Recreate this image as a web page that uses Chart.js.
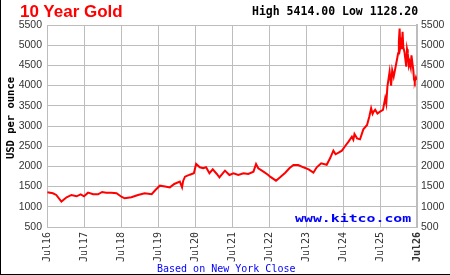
<!DOCTYPE html>
<html><head><meta charset="utf-8">
<script src="https://cdn.jsdelivr.net/npm/chart.js@4/dist/chart.umd.min.js"></script>
<style>
html,body{margin:0;padding:0;background:#fff;}
#wrap{position:relative;width:450px;height:275px;overflow:hidden;background:#fff;}
canvas{position:absolute;left:0;top:0;}
.t{position:absolute;white-space:nowrap;}
#title{left:20px;top:3px;font:bold 17px/17px "Liberation Sans",Arial,sans-serif;color:#ff0000;}
#hilo{left:252px;top:4.7px;font:bold 11.5px/12px "DejaVu Sans Mono",monospace;color:#000;}
#ytitle{left:-40px;top:111.5px;width:100px;height:12px;text-align:center;font:bold 10.5px/12px "DejaVu Sans Mono",monospace;color:#000;transform:rotate(-90deg);transform-origin:50% 50%;}
#based{left:157px;top:263.5px;font:10px/10px "DejaVu Sans Mono",monospace;color:#0000ff;}
#kitco{left:295px;top:213px;font:bold 11px/12px "DejaVu Sans Mono",monospace;color:#0000ff;transform:scaleX(1.35);transform-origin:0 50%;}
#frame{position:absolute;left:0;top:0;width:450px;height:275px;box-sizing:border-box;border-left:1px solid #000;border-bottom:1px solid #000;pointer-events:none;}
</style></head>
<body>
<div id="wrap">
<canvas id="c" width="450" height="275"></canvas>
<div class="t" id="title">10 Year Gold</div>
<div class="t" id="hilo">High 5414.00 Low 1128.20</div>
<div class="t" id="ytitle">USD per ounce</div>
<div class="t" id="kitco">www.kitco.com</div>
<div class="t" id="based">Based on New York Close</div>
<div id="frame"></div>
</div>
<script>
const goldYears = [2016.51,2016.66,2016.75,2016.89,2017.03,2017.16,2017.30,2017.41,2017.50,2017.61,
 2017.75,2017.88,2017.99,2018.10,2018.24,2018.38,2018.51,2018.60,2018.78,2018.96,
 2019.14,2019.33,2019.43,2019.55,2019.69,2019.82,2019.94,2020.09,2020.15,2020.18,
 2020.23,2020.36,2020.47,2020.53,2020.63,2020.72,2020.80,2020.89,2020.98,2021.09,
 2021.16,2021.31,2021.43,2021.54,2021.67,2021.81,2021.94,2022.08,2022.15,2022.21,
 2022.35,2022.48,2022.53,2022.69,2022.80,2022.94,2023.05,2023.16,2023.29,2023.43,
 2023.57,2023.70,2023.79,2023.91,2024.06,2024.15,2024.24,2024.30,2024.38,2024.47,2024.56,
 2024.65,2024.74,2024.78,2024.81,2024.88,2024.96,2025.05,2025.15,2025.21,2025.26,2025.30,2025.33,
 2025.37,2025.43,2025.49,2025.58,2025.64,2025.67,2025.70,2025.76,2025.80,2025.83,2025.87,2025.94,2025.99,
 2026.01,2026.03,2026.05,2026.07,2026.09,2026.11,2026.13,2026.16,2026.21,2026.23,2026.25,2026.28,2026.30,2026.33,2026.35,2026.40,2026.42,2026.44,
 2026.47,2026.49];
const goldPrices = [1359,1335,1293,1128,1235,1293,1260,1310,1260,1350,
 1310,1310,1367,1350,1350,1335,1250,1210,1235,1293,
 1335,1310,1416,1523,1500,1480,1565,1622,1483,1640,
 1746,1795,1830,2060,1978,1953,1978,1830,1928,1812,
 1730,1895,1788,1830,1788,1830,1812,1870,2060,1953,
 1870,1788,1746,1647,1730,1845,1953,2035,2035,1978,
 1928,1845,1978,2077,2040,2200,2390,2300,2340,2390,2505,
 2612,2735,2660,2802,2695,2670,2918,3025,3230,3438,3300,3355,
 3400,3310,3350,3400,3686,3550,3973,4345,4000,4380,4220,4552,4800,
 5100,5414,4950,5047,4900,5334,4950,4840,4468,4900,4800,4500,4580,4450,4750,4386,4150,4097,
 4200,4140];
const tickYears = [2016.5,2017.5,2018.5,2019.5,2020.5,2021.5,2022.5,2023.5,2024.5,2025.5,2026.5];
const tickLabels = ["Jul16","Jul17","Jul18","Jul19","Jul20","Jul21","Jul22","Jul23","Jul24","Jul25","Jul26"];
const priceTicks = [500,1000,1500,2000,2500,3000,3500,4000,4500,5000,5500];

const points = goldYears.map((x, i) => ({x: x, y: goldPrices[i]}));
const gridColor = '#bdbdbd';
const yTickFont = {family: '"Liberation Sans", Arial, sans-serif', size: 10.5};

new Chart(document.getElementById('c'), {
  type: 'line',
  data: {datasets: [{data: points, borderColor: '#ff0000', borderWidth: 2, pointRadius: 0, tension: 0, fill: false}]},
  options: {
    responsive: false, animation: false, devicePixelRatio: 1,
    layout: {padding: {top: 25, left: 0, right: 0, bottom: 0}},
    plugins: {legend: {display: false}, tooltip: {enabled: false}},
    scales: {
      x: {
        type: 'linear', min: tickYears[0], max: tickYears[tickYears.length - 1],
        afterBuildTicks: s => { s.ticks = tickYears.map(v => ({value: v})); },
        afterFit: s => { s.height = 48; },
        ticks: {
          autoSkip: false, minRotation: 90, maxRotation: 90, padding: 5, color: '#333',
          font: ctx => ({family: '"DejaVu Sans Mono", monospace', size: 10, weight: ctx.index === tickLabels.length - 1 ? 'bold' : 'normal'}),
          callback: (v, i) => tickLabels[i]
        },
        grid: {color: gridColor, lineWidth: 1, drawTicks: false},
        border: {color: gridColor, width: 1}
      },
      y: {
        position: 'left', min: priceTicks[0], max: priceTicks[priceTicks.length - 1],
        afterBuildTicks: s => { s.ticks = priceTicks.map(v => ({value: v})); },
        afterFit: s => { s.width = 47; },
        ticks: {padding: 5, color: '#333', font: yTickFont, callback: v => String(v)},
        grid: {color: gridColor, lineWidth: 1, drawTicks: false},
        border: {color: gridColor, width: 1}
      },
      y2: {
        position: 'right', min: priceTicks[0], max: priceTicks[priceTicks.length - 1],
        afterBuildTicks: s => { s.ticks = priceTicks.map(v => ({value: v})); },
        afterFit: s => { s.width = 33; },
        ticks: {padding: 4, color: '#333', font: yTickFont, callback: v => String(v)},
        grid: {drawOnChartArea: false, drawTicks: false},
        border: {color: gridColor, width: 2}
      }
    }
  }
});
</script>
</body></html>
